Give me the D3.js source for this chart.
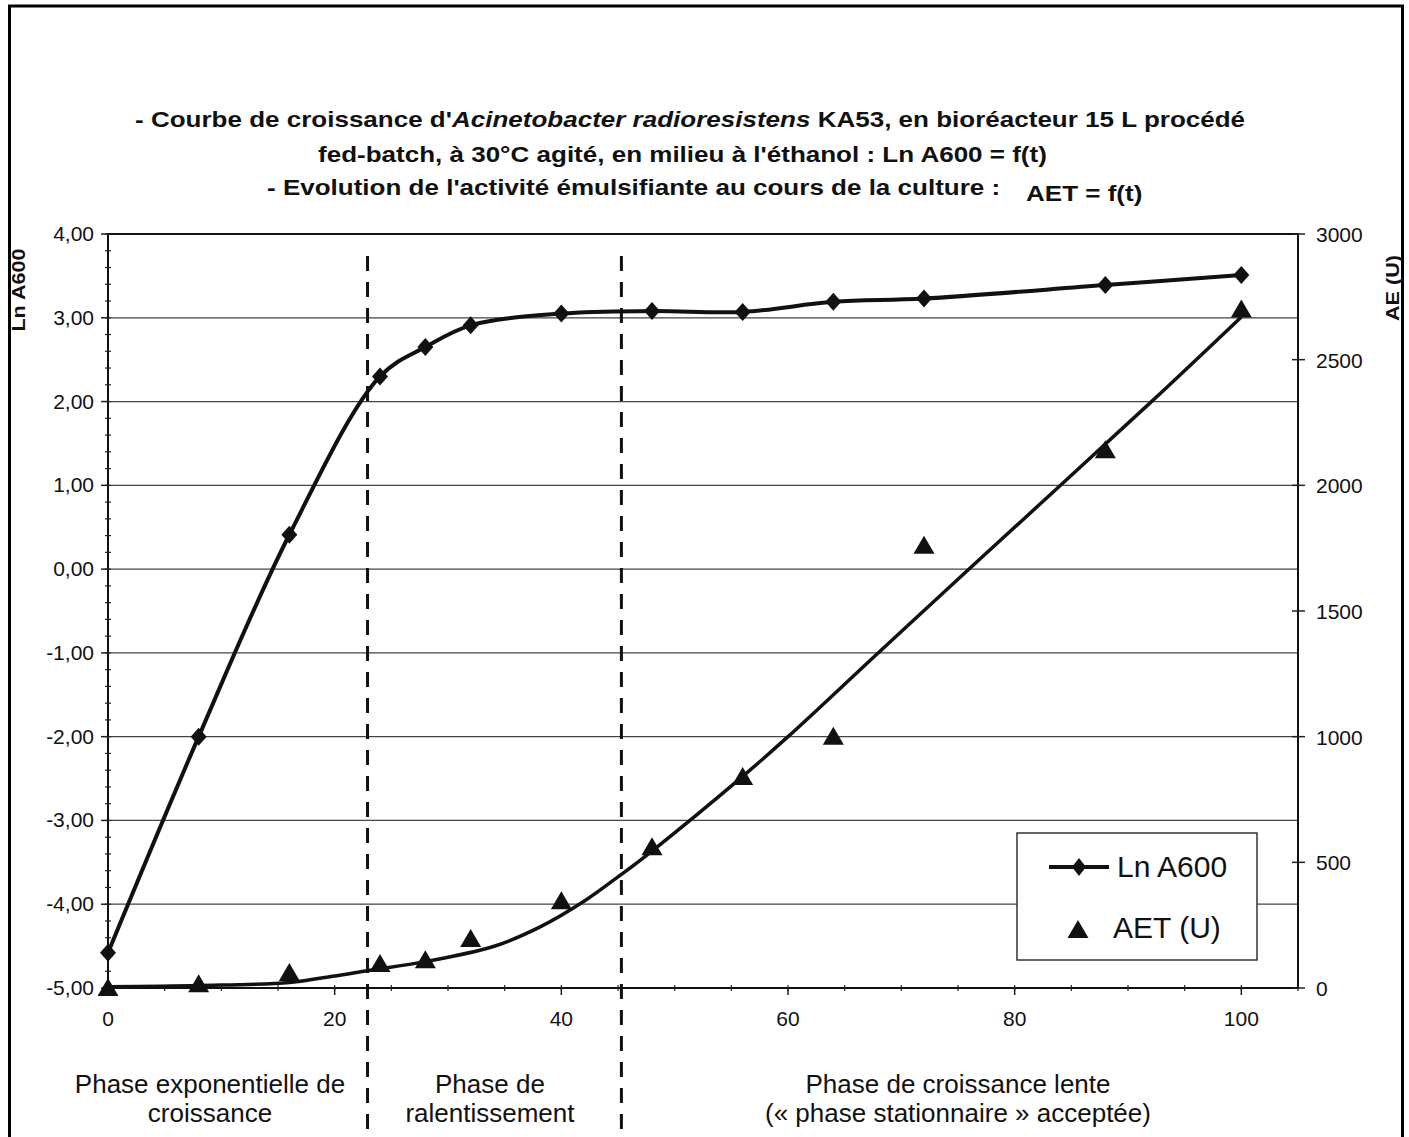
<!DOCTYPE html>
<html>
<head>
<meta charset="utf-8">
<script src="https://cdn.jsdelivr.net/npm/d3@7"></script>
<style>
  html, body { margin: 0; padding: 0; background: #fff; }
  svg { display: block; }
  text { font-family: "Liberation Sans", Arial, sans-serif; fill: #111; }
</style>
</head>
<body>
<script>
// ---------------- DATA ----------------
const timeH   = [0, 8, 16, 24, 28, 32, 40, 48, 56, 64, 72, 88, 100];
const lnA600  = [-4.58, -2.0, 0.41, 2.30, 2.65, 2.91, 3.05, 3.08, 3.07, 3.19, 3.23, 3.39, 3.51];
const aetU    = [0, 15, 60, 95, 110, 195, 345, 560, 840, 1000, 1760, 2140, 2700];

// hand-drawn AET trend curve
const trendTime = [0, 8, 16, 20, 23, 28, 34, 38, 42, 45, 48, 56, 60, 68, 76, 92, 100];
const trendAET  = [5, 10, 22, 48, 70, 105, 165, 240, 345, 442, 545, 842, 1000, 1335, 1668, 2330, 2670];

const xTicks      = [0, 20, 40, 60, 80, 100];
const leftTicks   = [-5, -4, -3, -2, -1, 0, 1, 2, 3, 4];
const rightTicks  = [0, 500, 1000, 1500, 2000, 2500, 3000];
const phaseBounds = [22.9, 45.3];

const titleLine1a = "- Courbe de croissance d'";
const titleLine1b = "Acinetobacter radioresistens";
const titleLine1c = " KA53,  en bioréacteur 15 L procédé";
const titleLine2  = "fed-batch, à 30°C agité, en milieu à l'éthanol : Ln A600 = f(t)";
const titleLine3  = "- Evolution de l'activité émulsifiante au cours de la culture :";
const titleLine3b = "AET = f(t)";
const leftAxisTitle  = "Ln A600";
const rightAxisTitle = "AE (U)";
const legendLabels = ["Ln A600", "AET (U)"];
const phaseLabels = [
  { lines: ["Phase exponentielle de", "croissance"], t: 9.0 },
  { lines: ["Phase de", "ralentissement"], t: 33.7 },
  { lines: ["Phase de croissance lente", "(« phase stationnaire » acceptée)"], t: 75.0 }
];

// ---------------- LAYOUT ----------------
const W = 1409, H = 1137;
const plot = { left: 108, right: 1298, top: 234, bottom: 988 };

const svg = d3.select("body").append("svg").attr("width", W).attr("height", H);

const x  = d3.scaleLinear().domain([0, 105]).range([plot.left, plot.right]);
const yL = d3.scaleLinear().domain([-5, 4]).range([plot.bottom, plot.top]);
const yR = d3.scaleLinear().domain([0, 3000]).range([plot.bottom, plot.top]);

const fr = d3.formatLocale({ decimal: ",", thousands: "", grouping: [3], currency: ["", ""], minus: "-" });
const fmtL = fr.format(".2f");

// outer frame
svg.append("rect").attr("x", 9.5).attr("y", 6).attr("width", 1393).attr("height", 1200)
  .attr("fill", "none").attr("stroke", "#000").attr("stroke-width", 3);

// ---------------- TITLE ----------------
const stretch = 1.21;
function stretchedText(x0, y0, size) {
  return svg.append("g").attr("transform", `translate(${x0},${y0}) scale(${stretch},1)`)
    .append("text").attr("x", 0).attr("y", 0).attr("font-size", size).attr("font-weight", "bold");
}
const t1 = stretchedText(135, 127, 21.5);
t1.append("tspan").text(titleLine1a);
t1.append("tspan").attr("font-style", "italic").text(titleLine1b);
t1.append("tspan").text(titleLine1c);
stretchedText(318, 162, 21.5).text(titleLine2);
stretchedText(267, 195, 21.5).text(titleLine3);
stretchedText(1026, 201, 21.5).text(titleLine3b);

// ---------------- GRID ----------------
svg.append("g").selectAll("line").data(leftTicks.filter(d => d > -5 && d < 4)).join("line")
  .attr("x1", plot.left).attr("x2", plot.right)
  .attr("y1", d => yL(d)).attr("y2", d => yL(d))
  .attr("stroke", "#444").attr("stroke-width", 1.3);

// plot frame
svg.append("rect").attr("x", plot.left).attr("y", plot.top)
  .attr("width", plot.right - plot.left).attr("height", plot.bottom - plot.top)
  .attr("fill", "none").attr("stroke", "#111").attr("stroke-width", 2);

// ---------------- AXES ----------------
// left axis
const gL = svg.append("g");
gL.selectAll("line.minor").data(d3.range(-5, 4.001, 0.2)).join("line")
  .attr("x1", plot.left - 3).attr("x2", plot.left + 3)
  .attr("y1", d => yL(d)).attr("y2", d => yL(d)).attr("stroke", "#222").attr("stroke-width", 1.2);
gL.selectAll("line.major").data(leftTicks).join("line")
  .attr("x1", plot.left - 7).attr("x2", plot.left)
  .attr("y1", d => yL(d)).attr("y2", d => yL(d)).attr("stroke", "#222").attr("stroke-width", 1.5);
gL.selectAll("text").data(leftTicks).join("text")
  .attr("x", 94).attr("y", d => yL(d) + 7).attr("text-anchor", "end").attr("font-size", 21)
  .text(d => fmtL(d));

// right axis
const gR = svg.append("g");
gR.selectAll("line").data(rightTicks).join("line")
  .attr("x1", plot.right - 6).attr("x2", plot.right + 7)
  .attr("y1", d => yR(d)).attr("y2", d => yR(d)).attr("stroke", "#222").attr("stroke-width", 1.5);
gR.selectAll("text").data(rightTicks).join("text")
  .attr("x", 1316).attr("y", d => yR(d) + 8).attr("font-size", 21)
  .text(d => String(d));

// bottom axis
const gB = svg.append("g");
gB.selectAll("line.minor").data(d3.range(0, 105.001, 5)).join("line")
  .attr("x1", d => x(d)).attr("x2", d => x(d))
  .attr("y1", plot.bottom - 3).attr("y2", plot.bottom + 3).attr("stroke", "#222").attr("stroke-width", 1.2);
gB.selectAll("line.major").data(xTicks).join("line")
  .attr("x1", d => x(d)).attr("x2", d => x(d))
  .attr("y1", plot.bottom).attr("y2", plot.bottom + 7).attr("stroke", "#222").attr("stroke-width", 1.5);
gB.selectAll("text").data(xTicks).join("text")
  .attr("x", d => x(d)).attr("y", 1026).attr("text-anchor", "middle").attr("font-size", 21)
  .text(d => String(d));

// axis titles
svg.append("g").attr("transform", "translate(25,290) rotate(-90) scale(1.2,1)")
  .append("text").attr("text-anchor", "middle").attr("font-size", 18).attr("font-weight", "bold")
  .text(leftAxisTitle);
svg.append("g").attr("transform", "translate(1399,288) rotate(-90) scale(1.2,1)")
  .append("text").attr("text-anchor", "middle").attr("font-size", 18).attr("font-weight", "bold")
  .text(rightAxisTitle);

// ---------------- PHASE BOUNDARIES ----------------
svg.append("g").selectAll("line").data(phaseBounds).join("line")
  .attr("x1", d => x(d)).attr("x2", d => x(d))
  .attr("y1", 256).attr("y2", H + 10)
  .attr("stroke", "#111").attr("stroke-width", 3).attr("stroke-dasharray", "15,11");

const gP = svg.append("g");
phaseLabels.forEach(p => {
  p.lines.forEach((ln, i) => {
    gP.append("text").attr("x", x(p.t)).attr("y", 1093 + i * 29)
      .attr("text-anchor", "middle").attr("font-size", 26).text(ln);
  });
});

// ---------------- SERIES ----------------
const lnData = timeH.map((t, i) => ({ t, v: lnA600[i] }));
const aetData = timeH.map((t, i) => ({ t, v: aetU[i] }));
const trendData = trendTime.map((t, i) => ({ t, v: trendAET[i] }));

// AET trend curve
svg.append("path").datum(trendData)
  .attr("d", d3.line().x(d => x(d.t)).y(d => yR(d.v)).curve(d3.curveCatmullRom.alpha(0.5)))
  .attr("fill", "none").attr("stroke", "#111").attr("stroke-width", 3.5);

// Ln A600 smoothed line
svg.append("path").datum(lnData)
  .attr("d", d3.line().x(d => x(d.t)).y(d => yL(d.v)).curve(d3.curveCatmullRom.alpha(0.5)))
  .attr("fill", "none").attr("stroke", "#111").attr("stroke-width", 4);

const diamond = (cx, cy, w = 8, h = 9) => `M${cx},${cy - h}L${cx + w},${cy}L${cx},${cy + h}L${cx - w},${cy}Z`;
const triangle = (cx, cy) => `M${cx},${cy - 10}L${cx + 10.5},${cy + 8}L${cx - 10.5},${cy + 8}Z`;

svg.append("g").selectAll("path").data(lnData).join("path")
  .attr("d", d => diamond(x(d.t), yL(d.v))).attr("fill", "#111");
svg.append("g").selectAll("path").data(aetData).join("path")
  .attr("d", d => triangle(x(d.t), yR(d.v))).attr("fill", "#111");

// ---------------- LEGEND ----------------
const lg = svg.append("g");
lg.append("rect").attr("x", 1017).attr("y", 833).attr("width", 240).attr("height", 127)
  .attr("fill", "#fff").attr("stroke", "#333").attr("stroke-width", 1.5);
lg.append("line").attr("x1", 1049).attr("x2", 1109).attr("y1", 867).attr("y2", 867)
  .attr("stroke", "#111").attr("stroke-width", 4);
lg.append("path").attr("d", diamond(1079, 867, 7, 9)).attr("fill", "#111");
lg.append("text").attr("x", 1117).attr("y", 877).attr("font-size", 30).text(legendLabels[0]);
lg.append("path").attr("d", triangle(1078, 930)).attr("fill", "#111");
lg.append("text").attr("x", 1113).attr("y", 938).attr("font-size", 30).text(legendLabels[1]);
</script>
</body>
</html>
